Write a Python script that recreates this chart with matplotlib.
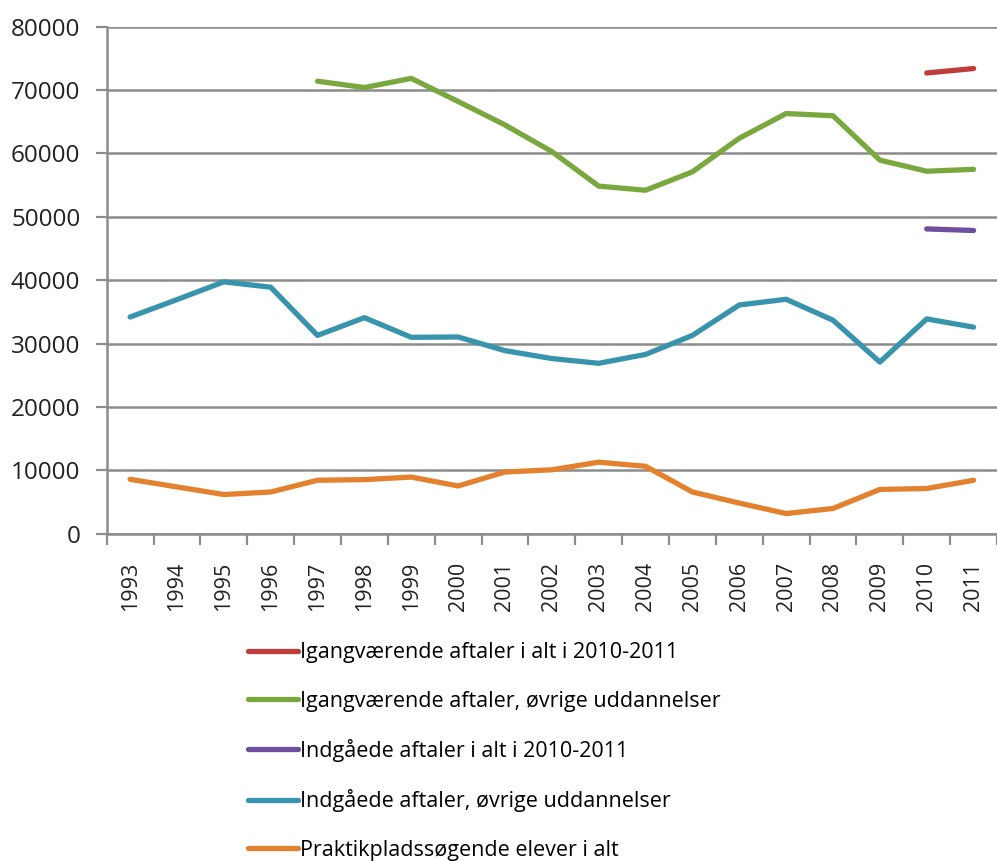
import numpy as np
import matplotlib
matplotlib.use('Agg')
import matplotlib.pyplot as plt

years = [str(y) for y in range(1993, 2012)]

# Igangværende aftaler i alt (kun 2010-2011)
igang_alt = [np.nan] * 17 + [72700, 73400]
# Igangværende aftaler, øvrige uddannelser (fra 1997)
igang_ovr = [np.nan] * 4 + [71400, 70400, 71850, 68200, 64500, 60300, 54850, 54200,
                            57100, 62400, 66300, 65950, 58950, 57200, 57500]
# Indgåede aftaler i alt (kun 2010-2011)
indg_alt = [np.nan] * 17 + [48100, 47850]
# Indgåede aftaler, øvrige uddannelser
indg_ovr = [34200, 36950, 39750, 38900, 31300, 34100, 31000, 31050, 28900, 27650,
            26900, 28300, 31300, 36100, 37000, 33700, 27100, 33900, 32600]
# Praktikpladssøgende elever i alt
praktik = [8600, 7400, 6200, 6600, 8450, 8550, 8950, 7550, 9750, 10100,
           11300, 10650, 6600, 4850, 3200, 4000, 7000, 7150, 8450]

labels = ['Igangværende aftaler i alt i 2010-2011',
          'Igangværende aftaler, øvrige uddannelser',
          'Indgåede aftaler i alt i 2010-2011',
          'Indgåede aftaler, øvrige uddannelser',
          'Praktikpladssøgende elever i alt']
colors = ['#BE3C3C', '#7AA83E', '#6E4E9E', '#3894AC', '#E4812E']

plt.rcParams['font.family'] = ['Open Sans', 'DejaVu Sans']

fig = plt.figure(figsize=(9.97, 8.61), dpi=100)
ax = fig.add_axes([0.107, 0.380, 0.893, 0.589])

x = np.arange(len(years))
series = [igang_alt, igang_ovr, indg_alt, indg_ovr, praktik]
for vals, lab, col in zip(series, labels, colors):
    ax.plot(x, vals, color=col, lw=3.8, label=lab, solid_capstyle='round')

ax.set_xlim(-0.5, len(years) - 0.5)
ax.set_ylim(0, 80000)
ax.set_yticks(range(0, 80001, 10000))
ax.set_xticks(np.arange(len(years) + 1) - 0.5, minor=False)
ax.set_xticklabels([])
ax.set_xticks(x, minor=True)
ax.set_xticklabels(years, minor=True, rotation=90, fontsize=15.5, color='#222222')
ax.tick_params(axis='x', which='minor', length=0, pad=20)
ax.tick_params(axis='x', which='major', length=8, width=1.6, color='#8C8C8C', direction='out')
ax.tick_params(axis='y', length=8, width=1.6, color='#8C8C8C', labelsize=17.5,
               labelcolor='#222222', pad=11)

ax.grid(axis='y', color='#8C8C8C', lw=1.8)
ax.set_axisbelow(True)
for s in ['top', 'right']:
    ax.spines[s].set_visible(False)
for s in ['left', 'bottom']:
    ax.spines[s].set_color('#8C8C8C')
    ax.spines[s].set_linewidth(1.8)

fig.legend(loc='upper left', bbox_to_anchor=(0.249, 0.254), frameon=False,
           fontsize=15.5, handlelength=2.3, handletextpad=0.1, labelspacing=1.27,
           borderaxespad=0, borderpad=0)

fig.savefig('out.png', dpi=100)
